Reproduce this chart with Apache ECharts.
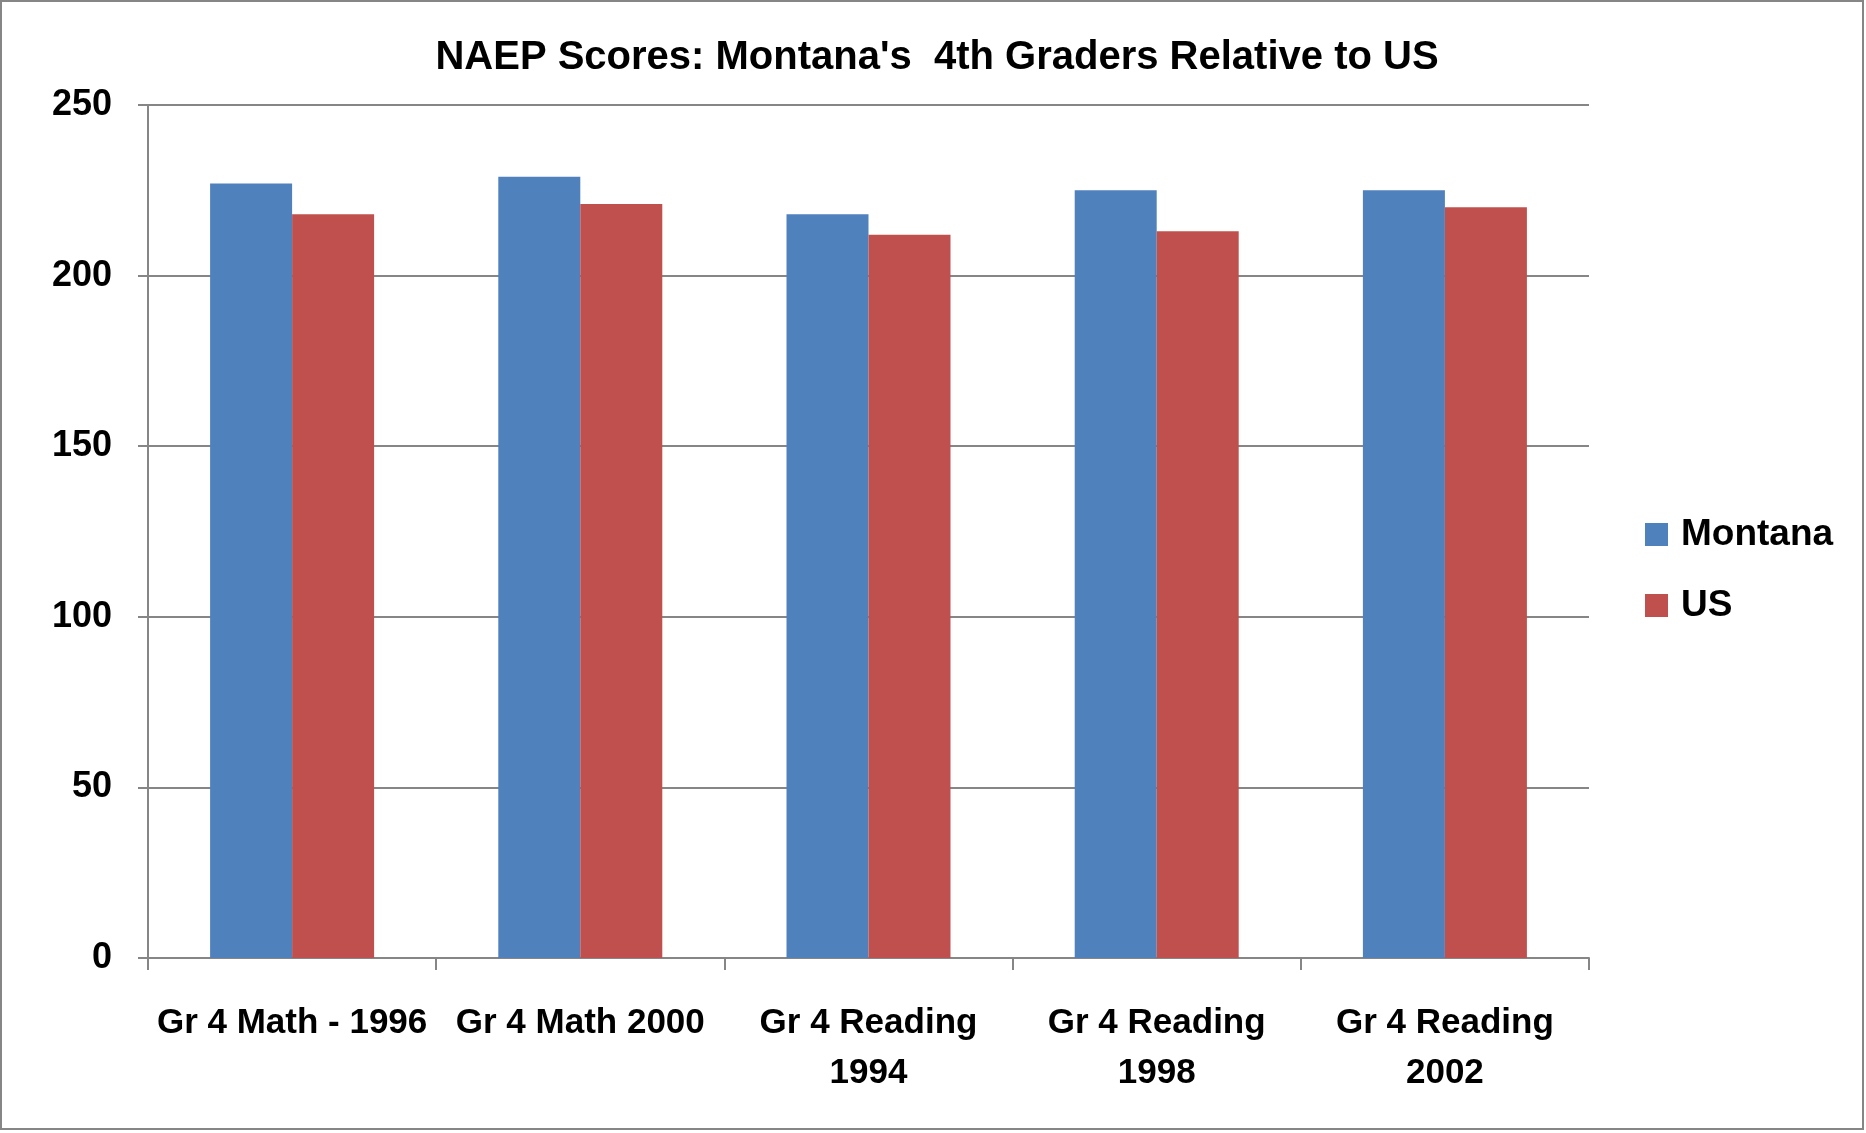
<!DOCTYPE html>
<html>
<head>
<meta charset="utf-8">
<script src="https://cdn.jsdelivr.net/npm/echarts@6/dist/echarts.min.js"></script>
<style>
html, body { margin: 0; padding: 0; background: #fff; }
#chart { width: 1866px; height: 1133px; }
</style>
</head>
<body>
<div id="chart"></div>
<script>
// data
var categories = ['Gr 4 Math - 1996', 'Gr 4 Math 2000', 'Gr 4 Reading\n1994', 'Gr 4 Reading\n1998', 'Gr 4 Reading\n2002'];
var montana = [227, 229, 218, 225, 225];
var us = [218, 221, 212, 213, 220];
var yTicks = [0, 50, 100, 150, 200, 250];

var font = 'Liberation Sans';
var dom_chart = document.getElementById('chart');
var myChart = echarts.init(dom_chart);

var option = {
    animation: false,
    backgroundColor: '#fff',
    title: {
        text: "NAEP Scores: Montana's  4th Graders Relative to US",
        left: 932,
        textAlign: 'center',
        top: 33,
        textStyle: { fontFamily: font, fontSize: 40, fontWeight: 'bold', color: '#000' }
    },
    legend: {
        orient: 'vertical',
        left: 1640,
        top: 511,
        itemWidth: 23,
        itemHeight: 23,
        itemGap: 34,
        icon: 'rect',
        textStyle: { fontFamily: font, fontSize: 37, fontWeight: 'bold', color: '#000', padding: [0, 0, 0, 8] },
        data: ['Montana', 'US']
    },
    graphic: [{
        type: 'rect',
        shape: { x: 1, y: 1, width: 1862, height: 1128 },
        style: { fill: null, stroke: '#868686', lineWidth: 2 },
        silent: true
    }],
    grid: { left: 148, right: 277, top: 105, bottom: 175 },
    xAxis: {
        type: 'category',
        data: categories,
        axisLine: { lineStyle: { color: '#868686', width: 2 } },
        axisTick: { show: true, length: 12, lineStyle: { color: '#868686', width: 2 } },
        axisLabel: {
            interval: 0,
            margin: 40,
            fontFamily: font,
            fontSize: 35,
            fontWeight: 'bold',
            color: '#000',
            lineHeight: 50
        }
    },
    yAxis: {
        type: 'value',
        min: yTicks[0],
        max: yTicks[yTicks.length - 1],
        interval: 50,
        axisLine: { show: true, lineStyle: { color: '#868686', width: 2 } },
        axisTick: { show: true, length: 10, lineStyle: { color: '#868686', width: 2 } },
        splitLine: { lineStyle: { color: '#868686', width: 2 } },
        axisLabel: {
            margin: 36,
            fontFamily: font,
            fontSize: 36,
            fontWeight: 'bold',
            color: '#000'
        }
    },
    series: [{
        name: 'Montana',
        type: 'bar',
        data: montana,
        barWidth: 82,
        barGap: '0%',
        itemStyle: { color: '#4F81BD' }
    }, {
        name: 'US',
        type: 'bar',
        data: us,
        barWidth: 82,
        barGap: '0%',
        itemStyle: { color: '#C0504D' }
    }]
};

if (option && typeof option === 'object') {
    myChart.setOption(option, true);
}
</script>
</body>
</html>
